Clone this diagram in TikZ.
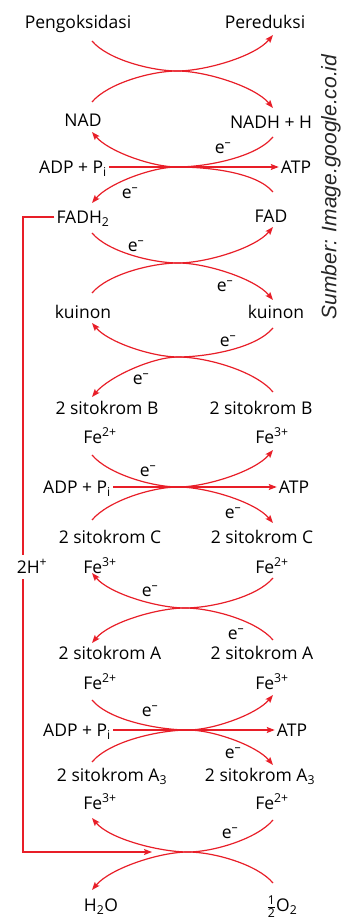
\documentclass[tikz,border=0pt]{standalone}
\usepackage{amsmath}
\usepackage{fontspec}
\setmainfont{Open Sans}
\newfontfamily\srcfont{Liberation Sans}
\usepackage{tikz}
\usetikzlibrary{arrows.meta}
\definecolor{arcred}{RGB}{232,30,40}

\begin{document}
\begin{tikzpicture}[x = 1pt, y = 1pt,
                      txt/.style = {font = \fontsize{17.5}{20}\selectfont, inner sep = 2pt,
                                    text height = 16.5pt, text depth = 4pt},
                      flow/.style = {draw = arcred, line width = 1.2pt, looseness = 0.7,
                                     -{Stealth[length = 8pt, width = 6pt, inset = 1.5pt]}}]
    \useasboundingbox (0, 0) rectangle (345, 921);

    \node [txt] (pengoks) at (78, 899) {Pengoksidasi};
    \node [txt] (pereduksi) at (265, 899) {Pereduksi};
    \node [txt] (nad) at (83, 801) {NAD};
    \node [txt] (nadh) at (271, 799) {NADH + H};
    \node [txt] (adp1) at (73, 754) {ADP + P\textsubscript{i}};
    \node [txt] (atp1) at (296, 754) {ATP};
    \node [txt] (fadh) at (83, 704) {FADH\textsubscript{2}};
    \node [txt] (fad) at (271, 705) {FAD};
    \node [txt] (kuinonL) at (83, 609) {kuinon};
    \node [txt] (kuinonR) at (276, 609) {kuinon};
    \node [txt] (sitBL) at (107, 513) {2 sitokrom B};
    \node [txt] (sitBR) at (261, 513) {2 sitokrom B};
    \node [txt] (feBL) at (100, 484) {Fe\textsuperscript{2+}};
    \node [txt] (feBR) at (272, 484) {Fe\textsuperscript{3+}};
    \node [txt] (adp2) at (77, 434) {ADP + P\textsubscript{i}};
    \node [txt] (atp2) at (294, 434) {ATP};
    \node [txt] (sitCL) at (110, 384) {2 sitokrom C};
    \node [txt] (sitCR) at (262, 384) {2 sitokrom C};
    \node [txt] (feCL) at (100, 354) {Fe\textsuperscript{3+}};
    \node [txt] (feCR) at (272, 354) {Fe\textsuperscript{2+}};
    \node [txt] (sitAL) at (110, 268) {2 sitokrom A};
    \node [txt] (sitAR) at (262, 268) {2 sitokrom A};
    \node [txt] (feAL) at (100, 238) {Fe\textsuperscript{2+}};
    \node [txt] (feAR) at (272, 238) {Fe\textsuperscript{3+}};
    \node [txt] (adp3) at (77, 191) {ADP + P\textsubscript{i}};
    \node [txt] (atp3) at (292, 191) {ATP};
    \node [txt] (sitA3L) at (112, 146) {2 sitokrom A\textsubscript{3}};
    \node [txt] (sitA3R) at (260, 146) {2 sitokrom A\textsubscript{3}};
    \node [txt] (feA3L) at (100, 118) {Fe\textsuperscript{3+}};
    \node [txt] (feA3R) at (272, 118) {Fe\textsuperscript{2+}};
    \node [txt] (h2o) at (101, 16) {H\textsubscript{2}O};
    \node [txt] (o2) at (282, 16) {$\frac{\text{1}}{\text{2}}$O\textsubscript{2}};

    \node [txt] (e1) at (223, 774) {e\textsuperscript{--}};
    \node [txt] (e2) at (130, 729) {e\textsuperscript{--}};
    \node [txt] (e3) at (136, 676) {e\textsuperscript{--}};
    \node [txt] (e4) at (225, 636) {e\textsuperscript{--}};
    \node [txt] (e5) at (228, 581) {e\textsuperscript{--}};
    \node [txt] (e6) at (141, 543) {e\textsuperscript{--}};
    \node [txt] (e7) at (148, 451) {e\textsuperscript{--}};
    \node [txt] (e8) at (233, 409) {e\textsuperscript{--}};
    \node [txt] (e9) at (150, 331) {e\textsuperscript{--}};
    \node [txt] (e10) at (236, 288) {e\textsuperscript{--}};
    \node [txt] (e11) at (150, 211) {e\textsuperscript{--}};
    \node [txt] (e12) at (233, 169) {e\textsuperscript{--}};
    \node [txt] (e13) at (230, 89) {e\textsuperscript{--}};

    \node [txt, rotate = 90, font = \srcfont\fontsize{21}{24}\selectfont\itshape, text = black!85]
          (src) at (330, 734) {Sumber: Image.google.co.id};

    \coordinate (L) at (92, 0);
    \coordinate (R) at (273, 0);
    \coordinate (m1) at (177, 850);
    \coordinate (m2) at (177, 754);
    \coordinate (m3) at (178, 658);
    \coordinate (m4) at (178, 564);
    \coordinate (m5) at (178, 434);
    \coordinate (m6) at (185, 313);
    \coordinate (m7) at (188, 191);
    \coordinate (m8) at (188, 69);
    \coordinate (bend) at (23, 69);

    % NAD
    \draw [flow] ([yshift = -19pt]L |- pengoks) to[out = -50, in = 180] (m1)
                 to[out = 0, in = -130] ([yshift = -13pt]R |- pereduksi);
    \draw [flow] ([yshift = 18pt]L |- nad) to[out = 50, in = 180] (m1)
                 to[out = 0, in = 130] ([yshift = 14pt]R |- nadh);
    \draw [flow] ([yshift = -15pt]R |- nadh) to[out = -130, in = 0] (m2)
                 to[out = 180, in = -50] ([yshift = -12pt]L |- nad);
    \draw [flow] (adp1) -- (atp1);
    \draw [flow] ([yshift = 24pt]R |- fad) to[out = 130, in = 0] (m2)
                 to[out = 180, in = 50] ([yshift = 14pt]L |- fadh);

    % FAD, kuinon
    \draw [flow] ([yshift = -16pt]L |- fadh) to[out = -50, in = 180] (m3)
                 to[out = 0, in = -130] ([yshift = -11pt]R |- fad);
    \draw [flow] ([yshift = 19pt]L |- kuinonL) to[out = 50, in = 180] (m3)
                 to[out = 0, in = 130] ([yshift = 12pt]R |- kuinonR);
    \draw [flow] ([yshift = -16pt]R |- kuinonR) to[out = -130, in = 0] (m4)
                 to[out = 180, in = -50] ([yshift = -11pt]L |- kuinonL);
    \draw [flow] ([yshift = 16pt]R |- sitBR) to[out = 130, in = 0] (m4)
                 to[out = 180, in = 50] ([yshift = 11pt]L |- sitBL);

    % sitokrom
    \draw [flow] ([yshift = -18pt]L |- feBL) to[out = -50, in = 180] (m5)
                 to[out = 0, in = -130] ([yshift = -13pt]R |- feBR);
    \draw [flow] (adp2) -- (atp2);
    \draw [flow] ([yshift = 17pt]L |- sitCL) to[out = 50, in = 180] (m5)
                 to[out = 0, in = 130] ([yshift = 14pt]R |- sitCR);
    \draw [flow] ([yshift = -11pt]R |- feCR) to[out = -130, in = 0] (m6)
                 to[out = 180, in = -50] ([yshift = -6pt]L |- feCL);
    \draw [flow] ([yshift = 13pt]R |- sitAR) to[out = 130, in = 0] (m6)
                 to[out = 180, in = 50] ([yshift = 10pt]L |- sitAL);
    \draw [flow] ([yshift = -17pt]L |- feAL) to[out = -50, in = 180] (m7)
                 to[out = 0, in = -130] ([yshift = -12pt]R |- feAR);
    \draw [flow] (adp3) -- (atp3);
    \draw [flow] ([yshift = 13pt]L |- sitA3L) to[out = 50, in = 180] (m7)
                 to[out = 0, in = 130] ([yshift = 10pt]R |- sitA3R);
    \draw [flow] ([yshift = -17pt]R |- feA3R) to[out = -130, in = 0] (m8)
                 to[out = 180, in = -50] ([yshift = -15pt]L |- feA3L);
    \draw [flow] ([yshift = 22pt]R |- o2) to[out = 130, in = 0] (m8)
                 to[out = 180, in = 50] ([yshift = 15pt]L |- h2o);

    % 2H+
    \draw [flow] (fadh.west) -| (bend) -- ([xshift = -36pt]m8);
    \node [txt, fill = white, inner xsep = 0pt] (hplus) at (32, 354) {2H\textsuperscript{+}};
\end{tikzpicture}
\end{document}
